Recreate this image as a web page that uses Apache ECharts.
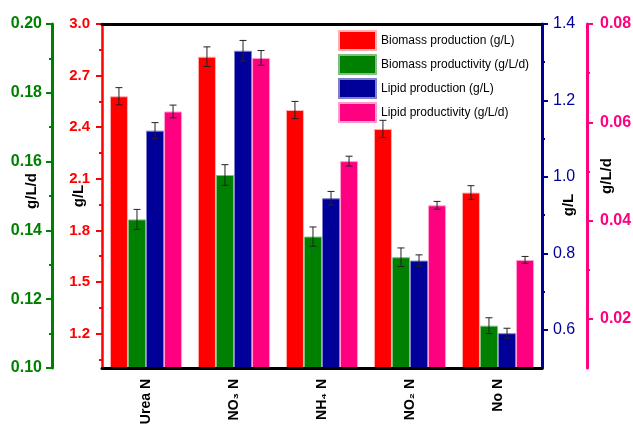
<!DOCTYPE html>
<html><head><meta charset="utf-8">
<script src="https://cdn.jsdelivr.net/npm/echarts@6/dist/echarts.min.js"></script>
<style>html,body{margin:0;padding:0;background:#fff}#c{width:633px;height:425px}</style>
</head><body><div id="c"></div>
<script>
const categories = ['Urea N', 'NO₃ N', 'NH₄ N', 'NO₂ N', 'No N'];
const seriesNames = ['Biomass production (g/L)', 'Biomass productivity (g/L/d)', 'Lipid production (g/L)', 'Lipid productivity (g/L/d)'];
const biomassProduction = [2.58, 2.81, 2.50, 2.39, 2.02];
const biomassProductionErr = [0.05, 0.057, 0.05, 0.05, 0.04];
const biomassProductivity = [0.1432, 0.1561, 0.1382, 0.1322, 0.1123];
const biomassProductivityErr = [0.0029, 0.003, 0.0028, 0.0027, 0.0023];
const lipidProduction = [1.121, 1.330, 0.944, 0.781, 0.591];
const lipidProductionErr = [0.021, 0.027, 0.018, 0.015, 0.013];
const lipidProductivity = [0.0622, 0.0731, 0.0521, 0.0431, 0.0320];
const lipidProductivityErr = [0.0013, 0.0015, 0.001, 0.0008, 0.0007];
const redMajor = [1.2, 1.5, 1.8, 2.1, 2.4, 2.7, 3.0];
const redMinor = [1.05, 1.35, 1.65, 1.95, 2.25, 2.55, 2.85];
const greenMajor = [0.10, 0.12, 0.14, 0.16, 0.18, 0.20];
const greenMinor = [0.11, 0.13, 0.15, 0.17, 0.19];
const blueMajor = [0.6, 0.8, 1.0, 1.2, 1.4];
const blueMinor = [0.7, 0.9, 1.1, 1.3];
const pinkMajor = [0.02, 0.04, 0.06, 0.08];
const pinkMinor = [0.03, 0.05, 0.07];

const FONT = 'Liberation Sans, Arial, sans-serif';
const RED = '#ff0000', GREEN = '#008000', BLUE = '#000099', PINK = '#ff0080';
const CAT_GAP = 0.18;

function mainAxis(o) {
  return {
    type: 'value', position: o.pos, offset: o.offset, min: o.min, max: o.max,
    splitLine: { show: false },
    axisLine: { show: true, lineStyle: { color: o.color, width: o.lw } },
    axisTick: { show: true, customValues: o.major, length: 6, lineStyle: { color: o.color, width: 2 } },
    axisLabel: { show: true, customValues: o.major, margin: o.margin, color: o.color, fontSize: o.fs, fontWeight: o.fw, fontFamily: FONT,
      formatter: v => Number(v).toFixed(o.dec) },
    name: o.name, nameLocation: 'middle', nameRotate: 90, nameGap: o.nameGap, nameMoveOverlap: false,
    nameTextStyle: { color: '#000', fontSize: 15, fontWeight: 'bold', fontFamily: FONT, padding: o.namePad }
  };
}
function minorAxis(o) {
  return {
    type: 'value', position: o.pos, offset: o.offset, min: o.min, max: o.max,
    splitLine: { show: false }, axisLine: { show: false },
    axisTick: { show: true, customValues: o.minor, length: 3, lineStyle: { color: o.color, width: 2 } },
    axisLabel: { show: false }
  };
}
const axCfg = [
  { pos: 'left', offset: 0, min: 1.0, max: 3.0, color: RED, lw: 2.5, major: redMajor, minor: redMinor, margin: 12, fs: 15, fw: 'bold', dec: 1, name: 'g/L', nameGap: 16, namePad: [0, 0, 0, 0] },
  { pos: 'left', offset: 50, min: 0.10, max: 0.20, color: GREEN, lw: 3, major: greenMajor, minor: greenMinor, margin: 10, fs: 16, fw: 'bold', dec: 2, name: 'g/L/d', nameGap: 13, namePad: [0, 0, 0, 10] },
  { pos: 'right', offset: 0, min: 0.5, max: 1.4, color: BLUE, lw: 3, major: blueMajor, minor: blueMinor, margin: 11, fs: 16, fw: 'normal', dec: 1, name: 'g/L', nameGap: 19, namePad: [0, 18, 0, 0] },
  { pos: 'right', offset: 45, min: 0.01, max: 0.08, color: PINK, lw: 3, major: pinkMajor, minor: pinkMinor, margin: 13, fs: 16, fw: 'bold', dec: 2, name: 'g/L/d', nameGap: 12, namePad: [0, 0, 0, 40] }
];
const yAxes = [];
axCfg.forEach(o => { yAxes.push(mainAxis(o)); yAxes.push(minorAxis(o)); });
// yAxis indices: red 0, green 2, blue 4, pink 6

const values = [biomassProduction, biomassProductivity, lipidProduction, lipidProductivity];
const errs = [biomassProductionErr, biomassProductivityErr, lipidProductionErr, lipidProductivityErr];
const colors = [RED, GREEN, BLUE, PINK];
const borders = ['#ffb0b0', '#7fbf7f', '#7f7fcc', '#ffa0cc'];
const yIdx = [0, 2, 4, 6];

const series = [];
values.forEach((vals, k) => {
  series.push({
    type: 'bar', name: seriesNames[k], xAxisIndex: 0, yAxisIndex: yIdx[k], data: vals,
    barGap: '0%', barCategoryGap: (CAT_GAP * 100) + '%',
    itemStyle: { color: colors[k], borderColor: borders[k], borderWidth: 1 }
  });
});
values.forEach((vals, k) => {
  series.push({
    type: 'custom', name: 'err' + k, xAxisIndex: 0, yAxisIndex: yIdx[k], z: 10,
    encode: { x: 0, y: 1 },
    data: vals.map((v, i) => [i, v, errs[k][i]]),
    renderItem: function (params, api) {
      const ci = api.value(0), v = api.value(1), e = api.value(2);
      const band = api.size([1, 0])[0];
      const bw = band * (1 - CAT_GAP) / 4;
      const cx = api.coord([ci, v])[0] - 2 * bw + (k + 0.5) * bw;
      const yt = api.coord([ci, v + e])[1], yb = api.coord([ci, v - e])[1];
      const c = 3.5;
      const st = { stroke: '#222', lineWidth: 1 };
      return { type: 'group', children: [
        { type: 'line', shape: { x1: cx, y1: yt, x2: cx, y2: yb }, style: st },
        { type: 'line', shape: { x1: cx - c, y1: yt, x2: cx + c, y2: yt }, style: st },
        { type: 'line', shape: { x1: cx - c, y1: yb, x2: cx + c, y2: yb }, style: st }
      ] };
    }
  });
});

const chart = echarts.init(document.getElementById('c'), null, { renderer: 'canvas' });
chart.setOption({
  animation: false,
  backgroundColor: '#fff',
  grid: { left: 102, right: 91, top: 24, bottom: 57, containLabel: false, outerBoundsMode: 'none' },
  legend: {
    orient: 'vertical', left: 338, top: 30, padding: 0, itemWidth: 37, itemHeight: 19, itemGap: 3, icon: 'rect',
    data: seriesNames, textStyle: { fontSize: 12, color: '#000', fontFamily: FONT }
  },
  xAxis: [
    { type: 'category', data: categories, position: 'bottom', z: 5,
      axisLine: { lineStyle: { color: '#000', width: 3 } },
      axisTick: { alignWithLabel: true, length: 6, lineStyle: { color: '#000', width: 2 } },
      axisLabel: { rotate: 90, margin: 11, color: '#000', fontSize: 14, fontWeight: 'bold', fontFamily: FONT },
      splitLine: { show: false } },
    { type: 'category', data: categories, position: 'top', z: 5,
      axisLine: { lineStyle: { color: '#000', width: 3 } },
      axisTick: { show: false }, axisLabel: { show: false }, splitLine: { show: false } }
  ],
  yAxis: yAxes,
  series: series
});
</script></body></html>
